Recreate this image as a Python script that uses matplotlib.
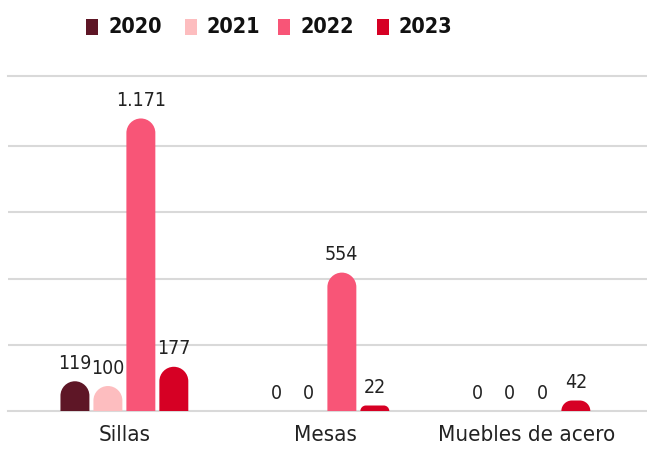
import matplotlib
matplotlib.use("Agg")
import matplotlib.pyplot as plt
from matplotlib.path import Path
from matplotlib.patches import PathPatch, Rectangle

categories = ["Sillas", "Mesas", "Muebles de acero"]
years = ["2020", "2021", "2022", "2023"]
v2020 = [119, 0, 0]
v2021 = [100, 0, 0]
v2022 = [1171, 554, 0]
v2023 = [177, 22, 42]
series = [v2020, v2021, v2022, v2023]
colors = ["#5E1626", "#FDBDBF", "#F85577", "#D60024"]

grid_color = "#D9D9D9"
font = dict(family="DejaVu Sans", fontstretch="condensed")

W, H = 647, 450
fig = plt.figure(figsize=(W / 100, H / 100), dpi=100)
ax = fig.add_axes([8 / W, 39 / H, 639 / W, 335 / H])
ax.set_xlim(-0.579, 2.6)
ax.set_ylim(0, 1341)

# gridlines
ax.set_yticks([265, 530, 795, 1060])
ax.yaxis.grid(True, color=grid_color, lw=1.5)
ax.set_axisbelow(True)
ax.tick_params(axis="y", left=False, labelleft=False)
for s in ["left", "right"]:
    ax.spines[s].set_visible(False)
for s in ["top", "bottom"]:
    ax.spines[s].set_color(grid_color)
    ax.spines[s].set_linewidth(1.5)

ax.set_xticks(range(len(categories)), categories)
ax.tick_params(axis="x", length=0, pad=10, labelsize=16)
for lbl in ax.get_xticklabels():
    lbl.set_fontstretch("condensed")
    lbl.set_color("#222222")

width = 0.144
step = 0.164

# pixels per data unit, used to keep the round caps circular
p0 = ax.transData.transform((0, 0))
p1 = ax.transData.transform((1, 1))
sx, sy = p1[0] - p0[0], p1[1] - p0[1]
k = 0.5523


def rounded_bar(x0, w, h, color):
    x1 = x0 + w
    r_px = min(w * sx / 2, h * sy)
    rx, ry = r_px / sx, r_px / sy
    verts = [
        (x0, 0), (x0, h - ry),
        (x0, h - ry + k * ry), (x0 + rx - k * rx, h), (x0 + rx, h),
        (x1 - rx, h),
        (x1 - rx + k * rx, h), (x1, h - ry + k * ry), (x1, h - ry),
        (x1, 0), (x0, 0),
    ]
    codes = [Path.MOVETO, Path.LINETO,
             Path.CURVE4, Path.CURVE4, Path.CURVE4,
             Path.LINETO,
             Path.CURVE4, Path.CURVE4, Path.CURVE4,
             Path.LINETO, Path.CLOSEPOLY]
    ax.add_patch(PathPatch(Path(verts, codes), facecolor=color, edgecolor="none", zorder=3))


for j, (vals, c) in enumerate(zip(series, colors)):
    off = (j - 1.5) * step
    bars = ax.bar([i + off for i in range(len(categories))], vals, width, color="none")
    for b, v in zip(bars, vals):
        if v > 0:
            rounded_bar(b.get_x(), b.get_width(), b.get_height(), c)
        label = f"{v:,}".replace(",", ".")
        ax.annotate(label, (b.get_x() + b.get_width() / 2, v), xytext=(0, 6),
                    textcoords="offset points", ha="center", va="bottom",
                    fontsize=14, color="#222222", **font)

# legend along the top
sq_x = [86, 185, 278, 377]
for x, yr, c in zip(sq_x, years, colors):
    fig.patches.append(Rectangle((x / W, 1 - 35 / H), 12 / W, 16 / H,
                                 transform=fig.transFigure, facecolor=c, edgecolor="none"))
    fig.text((x + 22) / W, 1 - 27 / H, yr, ha="left", va="center", fontsize=15.5,
             fontweight="bold", color="#111111", **font)

fig.savefig("out.png", dpi=100)
